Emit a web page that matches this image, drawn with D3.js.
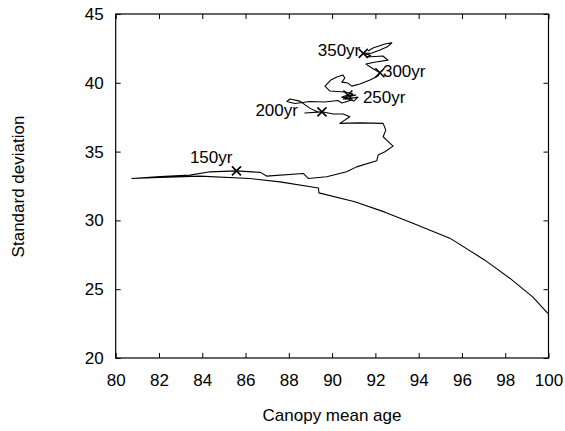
<!DOCTYPE html>
<html><head><meta charset="utf-8">
<script src="https://cdn.jsdelivr.net/npm/d3@7"></script>
<style>body{margin:0;background:#fff} text{font-family:"Liberation Sans",Arial,Helvetica,sans-serif}</style>
</head><body><svg id="c" width="565" height="431"></svg>
<script>
// trajectory (in time order)
const meanAge = [99.97,99.27,98.21,97.06,95.44,93.73,92.44,91.05,89.39,89.37,87.59,86.20,83.89,82.05,80.75,
  82.05,83.43,84.36,85.58,86.69,86.97,88.67,88.90,89.75,90.67,91.13,92.06,92.13,92.44,92.82,92.52,92.36,92.48,92.36,
  91.28,90.36,90.82,90.51,90.05,89.53,88.74,89.34,88.97,88.51,88.05,87.91,88.28,88.97,89.66,90.27,
  90.45,90.91,90.55,91.10,90.73,90.45,91.01,91.19,90.62,90.95,
  90.59,89.90,89.67,89.94,90.22,90.50,90.59,90.45,90.73,90.91,91.28,91.75,92.12,92.21,
  91.84,91.56,92.02,92.58,92.35,91.61,91.78,91.44,91.84,92.21,92.58,92.76,92.44,91.89,91.66];
const stdDev = [23.25,24.44,25.80,27.11,28.71,29.80,30.60,31.35,32.00,32.35,32.80,33.04,33.22,33.12,33.05,
  33.18,33.29,33.53,33.60,33.49,33.22,33.41,33.05,33.17,33.53,33.89,34.33,34.75,34.99,35.40,35.84,36.08,36.56,37.05,
  37.09,37.05,37.53,37.73,37.73,37.89,37.80,37.87,38.16,38.67,38.82,38.64,38.49,38.64,38.60,38.71,
  38.53,38.75,38.89,39.11,39.11,38.96,38.67,38.96,38.80,39.20,
  39.33,39.40,39.76,40.20,40.42,40.56,40.35,40.05,39.98,39.76,39.91,40.20,40.49,40.73,
  41.07,41.36,41.51,41.65,41.95,41.87,42.00,42.14,42.16,42.38,42.64,42.91,42.82,42.53,42.31];
const markerLabels = ["150yr","200yr","250yr","300yr","350yr"];
const markerAge = [85.58,89.53,90.73,92.21,91.44];
const markerStd = [33.60,37.89,39.11,40.73,42.14];
const xTicks = [80,82,84,86,88,90,92,94,96,98,100];
const yTicks = [20,25,30,35,40,45];

// label placement (style)
const labelOffsets = [[-4,-8,"end"],[-24,4,"end"],[15,8,"start"],[3,4,"start"],[-3,3,"end"]];

const L=115.7, R=548.5, T=14, B=358;
const svg=d3.select("#c");
const x=d3.scaleLinear().domain([80,100]).range([L,R]);
const y=d3.scaleLinear().domain([20,45]).range([B,T]);
const fs=17;

function style(g){g.selectAll("text").attr("font-size",fs).attr("fill","#000");g.selectAll("line").attr("stroke","#000");g.select(".domain").remove();}
svg.append("g").attr("transform",`translate(0,${B})`).call(d3.axisBottom(x).tickValues(xTicks).tickSizeInner(-5).tickSizeOuter(0).tickPadding(16)).call(style);
svg.append("g").attr("transform",`translate(0,${T})`).call(d3.axisTop(x).tickValues(xTicks).tickSizeInner(-5).tickSizeOuter(0).tickFormat("")).call(style);
svg.append("g").attr("transform",`translate(${L},0)`).call(d3.axisLeft(y).tickValues(yTicks).tickSizeInner(-5).tickSizeOuter(0).tickPadding(12)).call(style);
svg.append("g").attr("transform",`translate(${R},0)`).call(d3.axisRight(y).tickValues(yTicks).tickSizeInner(-5).tickSizeOuter(0).tickFormat("")).call(style);
svg.append("rect").attr("x",L).attr("y",T).attr("width",R-L).attr("height",B-T).attr("fill","none").attr("stroke","#000").attr("stroke-width",1.2);

const pts=meanAge.map((a,i)=>[a,stdDev[i]]);
svg.append("path").datum(pts).attr("fill","none").attr("stroke","#000").attr("stroke-width",1.1).attr("stroke-linejoin","round")
  .attr("d",d3.line().x(d=>x(d[0])).y(d=>y(d[1])));

const s=4.5;
markerAge.forEach((a,i)=>{
  const cx=x(a), cy=y(markerStd[i]);
  svg.append("path").attr("d",`M${cx-s},${cy-s}L${cx+s},${cy+s}M${cx-s},${cy+s}L${cx+s},${cy-s}`).attr("stroke","#000").attr("stroke-width",1.6);
  const o=labelOffsets[i];
  svg.append("text").attr("x",cx+o[0]).attr("y",cy+o[1]).attr("text-anchor",o[2]).attr("font-size",fs).text(markerLabels[i]);
});

svg.append("text").attr("x",332).attr("y",421).attr("text-anchor","middle").attr("font-size",fs).text("Canopy mean age");
svg.append("text").attr("transform","translate(24,186.5) rotate(-90)").attr("text-anchor","middle").attr("font-size",fs).text("Standard deviation");
</script></body></html>
